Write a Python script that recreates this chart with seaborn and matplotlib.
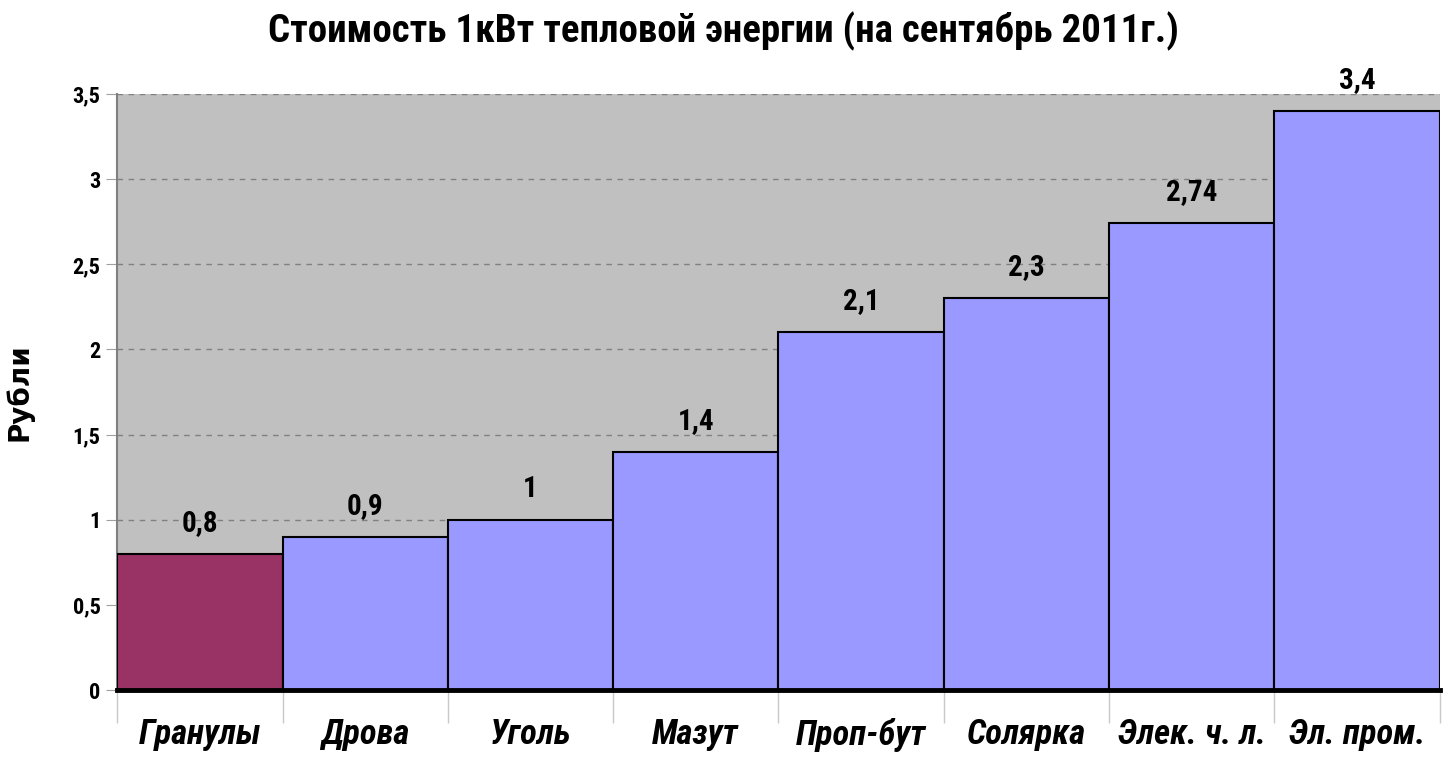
import matplotlib.pyplot as plt
import seaborn as sns
import pandas as pd
from matplotlib.ticker import FuncFormatter, FixedLocator

categories = ["Гранулы", "Дрова", "Уголь", "Мазут", "Проп-бут", "Солярка", "Элек. ч. л.", "Эл. пром."]
prices = [0.8, 0.9, 1.0, 1.4, 2.1, 2.3, 2.74, 3.4]
value_labels = ["0,8", "0,9", "1", "1,4", "2,1", "2,3", "2,74", "3,4"]
colors = ["#993366"] + ["#9999FF"] * 7

sns.set_style("white")
narrow = ['Roboto Condensed', 'PT Sans Narrow', 'DejaVu Sans']
plt.rcParams['font.family'] = narrow
plt.rcParams['text.color'] = 'black'
plt.rcParams['axes.labelcolor'] = 'black'
plt.rcParams['xtick.color'] = 'black'
plt.rcParams['ytick.color'] = 'black'

df = pd.DataFrame({"cat": categories, "price": prices})

fig = plt.figure(figsize=(14.47, 7.65), dpi=100)
ax = fig.add_axes([0.081, 0.098, 0.914, 0.779])
ax.set_facecolor("#C0C0C0")

sns.barplot(data=df, x="cat", y="price", hue="cat", palette=colors, legend=False,
            saturation=1, width=1.0, edgecolor="black", linewidth=1.5, ax=ax, zorder=3)

for i, (v, lab) in enumerate(zip(prices, value_labels)):
    ax.text(i, v + 0.1, lab, ha="center", va="bottom", fontsize=21, fontweight="bold")

ax.set_xlim(-0.5, len(categories) - 0.5)
ax.set_ylim(0, 3.5)
ax.set_yticks([0, 0.5, 1, 1.5, 2, 2.5, 3, 3.5])
ax.yaxis.set_major_formatter(FuncFormatter(lambda y, _: f"{y:g}".replace(".", ",")))
ax.yaxis.grid(True, linestyle=(0, (4, 4)), color="#808080", linewidth=1, zorder=0)
ax.set_axisbelow(True)

ax.tick_params(axis="y", left=True, length=8, color="#A0A0A0", labelsize=16, pad=4,
               labelcolor="black")
for t in ax.get_yticklabels():
    t.set_fontweight("bold")
ax.tick_params(axis="x", which="major", length=0, pad=20, labelsize=25)
for t in ax.get_xticklabels():
    t.set_fontweight("bold")
    t.set_fontstyle("italic")
ax.xaxis.set_minor_locator(FixedLocator([i - 0.5 for i in range(len(categories) + 1)]))
ax.tick_params(axis="x", which="minor", bottom=True, length=24, color="#C8C8C8", width=1)

ax.set_xlabel("")
ax.set_ylabel("Рубли", fontsize=20, fontweight="bold", family=["DejaVu Sans"],
              color="black", labelpad=28)

for s in ["top", "right"]:
    ax.spines[s].set_visible(False)
ax.spines["left"].set_color("#808080")
ax.spines["left"].set_linewidth(1.5)
ax.spines["bottom"].set_color("black")
ax.spines["bottom"].set_linewidth(3.5)
ax.spines["bottom"].set_zorder(5)

fig.suptitle("Стоимость 1кВт тепловой энергии (на сентябрь 2011г.)", fontsize=28, fontweight="bold", y=0.985)

fig.savefig("out.png", dpi=100)
